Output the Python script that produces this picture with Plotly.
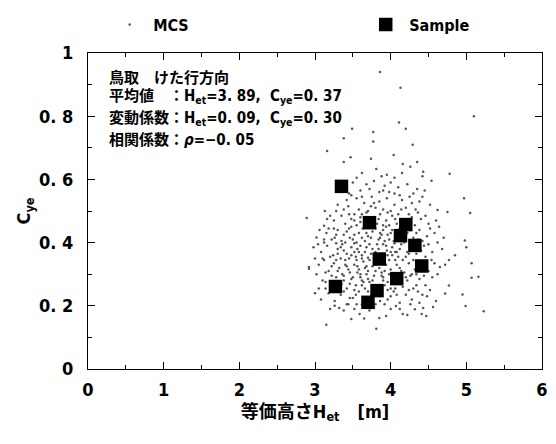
import plotly.graph_objects as go

# Sample data (Het [m], Cye)
sample_h = [3.35, 3.72, 4.20, 4.13, 4.32, 3.85, 4.41, 4.08, 3.27, 3.82, 3.70]
sample_c = [0.578, 0.463, 0.457, 0.422, 0.391, 0.348, 0.326, 0.286, 0.261, 0.248, 0.211]

# MCS cloud (Cye high -> low)
mcs_h = [
    3.86, 4.13,
    5.10, 3.49, 3.77, 4.11, 4.20,
    3.38, 3.77, 4.29, 3.16, 3.47, 3.74, 4.04, 3.38, 4.35, 4.16,
    3.81, 4.26, 4.43, 4.78, 4.42, 3.62, 3.95, 4.05, 3.55, 4.15, 3.88,
    4.54, 3.50, 3.68, 3.78, 3.92, 4.00, 4.10, 4.22, 4.35, 3.60, 3.85, 4.05, 4.30, 3.45, 3.72, 4.45, 3.98,
    4.97, 3.13, 3.30, 3.42, 3.55, 3.65, 3.75, 3.85, 3.95, 4.05, 4.15, 4.25, 4.38, 4.52, 3.58, 3.80,
    3.90, 4.00, 4.20, 4.62, 4.75, 3.38, 3.70, 4.33,
    5.05, 2.89, 3.12, 3.25, 3.35, 3.45, 3.52, 3.60, 3.68, 3.78, 3.86, 3.94, 4.02, 4.10, 4.28, 4.40,
    4.50, 4.60, 3.40, 3.55, 3.82, 3.98, 4.18, 4.32, 3.20, 3.65, 4.08, 3.48, 3.90,
    3.02, 3.15, 3.22, 3.30, 3.38, 3.45, 3.50, 3.58, 3.63, 3.70, 3.76, 3.84, 3.90, 3.96, 4.04, 4.12,
    4.22, 4.30, 4.38, 4.48, 4.58, 4.70, 4.98, 3.35, 3.55, 3.80, 4.00, 4.16, 3.66, 3.25, 3.92, 4.42,
    3.72, 3.12,
    5.00, 2.98, 3.08, 3.16, 3.24, 3.30, 3.36, 3.42, 3.48, 3.54, 3.60, 3.66, 3.72, 3.78, 3.84, 3.90,
    3.96, 4.02, 4.08, 4.14, 4.20, 4.26, 4.34, 4.44, 4.55, 4.68, 4.85, 3.20, 3.45, 3.70, 3.95, 4.10,
    3.38, 3.62, 3.88, 4.30, 3.52, 3.76, 4.05, 3.28,
    5.07, 4.77, 4.65, 2.92, 3.05, 3.12, 3.18, 3.25, 3.32, 3.40, 3.46, 3.52, 3.58, 3.64, 3.70, 3.76,
    3.82, 3.88, 3.94, 4.00, 4.06, 4.12, 4.18, 4.24, 4.32, 4.40, 4.50, 4.58, 3.36, 3.60, 3.85, 4.05,
    3.28, 3.55, 3.72, 3.98, 4.28, 3.42, 3.68, 3.92, 2.92,
    5.16, 5.07, 4.77, 3.10, 3.20, 3.28, 3.35, 3.42, 3.48, 3.54, 3.60, 3.66, 3.72, 3.78, 3.84, 3.90,
    3.96, 4.02, 4.10, 4.16, 4.22, 4.30, 4.38, 4.46, 4.55, 3.05, 3.38, 3.64, 3.88, 4.06, 4.26, 3.25,
    3.52,
    4.95, 4.72, 3.08, 3.18, 3.26, 3.34, 3.42, 3.50, 3.58, 3.66, 3.74, 3.80, 3.88, 3.96, 4.04, 4.12,
    4.20, 4.28, 4.36, 4.48, 4.60, 3.55, 3.92, 4.00, 3.30, 3.70,
    4.99, 5.23, 4.56, 4.43, 4.47, 4.41, 4.32, 4.22, 4.07, 4.16, 3.94, 3.85, 3.59, 3.32, 3.48, 3.72,
    3.20, 3.65,
    3.15, 3.81,
    # denser core
    3.48, 3.62, 3.78, 3.90, 4.12, 4.28, 3.35, 4.42,
    3.28, 3.44, 3.62, 3.74, 3.84, 3.96, 4.06, 4.14, 4.24, 4.36, 4.46, 3.52, 3.16,
    3.18, 3.28, 3.42, 3.52, 3.60, 3.68, 3.74, 3.86, 3.94, 4.02, 4.26, 4.34, 4.52, 4.64, 3.06, 3.48,
    3.88, 4.08,
    3.12, 3.26, 3.34, 3.40, 3.46, 3.56, 3.62, 3.68, 3.74, 3.82, 3.86, 3.94, 3.98, 4.06, 4.12, 4.18,
    4.24, 4.36, 4.40, 4.50, 4.62, 3.04, 3.58, 3.80, 4.00,
    3.10, 3.22, 3.34, 3.40, 3.48, 3.56, 3.62, 3.66, 3.74, 3.80, 3.86, 3.92, 4.02, 4.08, 4.16, 4.22,
    4.30, 4.36, 4.46, 4.54, 4.72, 3.00, 3.30, 3.52,
    3.02, 3.14, 3.22, 3.30, 3.38, 3.44, 3.50, 3.56, 3.62, 3.68, 3.76, 3.80, 3.90, 3.98, 4.04, 4.14,
    4.20, 4.34, 4.44, 4.62, 3.14, 3.70, 3.96,
    3.14, 3.22, 3.30, 3.38, 3.46, 3.54, 3.62, 3.70, 3.76, 3.84, 3.92, 4.00, 4.08, 4.14, 4.24, 4.34,
    4.42, 4.52, 3.00, 3.46,
    3.26, 3.38, 3.52, 3.62, 3.78, 3.86, 4.00, 4.12, 4.26, 4.38, 3.44,
]
mcs_c = [
    0.94, 0.89,
    0.80, 0.76, 0.75, 0.78, 0.76,
    0.73, 0.72, 0.71, 0.69, 0.67, 0.665, 0.677, 0.655, 0.655, 0.649,
    0.633, 0.64, 0.624, 0.618, 0.61, 0.62, 0.615, 0.605, 0.605, 0.62, 0.61,
    0.596, 0.59, 0.585, 0.595, 0.58, 0.59, 0.575, 0.585, 0.57, 0.565, 0.56, 0.555, 0.555, 0.555, 0.57, 0.565, 0.56,
    0.54, 0.50, 0.52, 0.535, 0.54, 0.525, 0.545, 0.53, 0.54, 0.52, 0.535, 0.545, 0.53, 0.52, 0.505, 0.51,
    0.505, 0.50, 0.51, 0.503, 0.497, 0.505, 0.50, 0.505,
    0.494, 0.478, 0.453, 0.47, 0.485, 0.49, 0.47, 0.48, 0.495, 0.48, 0.49, 0.47, 0.485, 0.49, 0.48, 0.475,
    0.46, 0.47, 0.46, 0.455, 0.46, 0.455, 0.465, 0.455, 0.485, 0.465, 0.46, 0.475, 0.455,
    0.416, 0.43, 0.41, 0.44, 0.425, 0.445, 0.41, 0.43, 0.445, 0.42, 0.435, 0.41, 0.44, 0.425, 0.405, 0.445,
    0.43, 0.415, 0.44, 0.42, 0.43, 0.415, 0.407, 0.405, 0.40, 0.445, 0.43, 0.41, 0.405, 0.445, 0.405, 0.405,
    0.45, 0.41,
    0.385, 0.385, 0.37, 0.39, 0.36, 0.38, 0.395, 0.365, 0.385, 0.355, 0.39, 0.37, 0.395, 0.36, 0.38, 0.395,
    0.36, 0.385, 0.37, 0.395, 0.355, 0.38, 0.365, 0.39, 0.37, 0.38, 0.36, 0.355, 0.35, 0.352, 0.375, 0.355,
    0.375, 0.36, 0.365, 0.395, 0.398, 0.38, 0.398, 0.398,
    0.335, 0.345, 0.323, 0.323, 0.33, 0.345, 0.31, 0.335, 0.32, 0.345, 0.305, 0.33, 0.315, 0.34, 0.31, 0.325,
    0.34, 0.305, 0.33, 0.315, 0.345, 0.32, 0.305, 0.335, 0.315, 0.34, 0.31, 0.335, 0.30, 0.30, 0.32, 0.30,
    0.345, 0.345, 0.345, 0.345, 0.30, 0.325, 0.325, 0.31, 0.317,
    0.292, 0.289, 0.264, 0.28, 0.26, 0.29, 0.27, 0.255, 0.285, 0.265, 0.29, 0.255, 0.275, 0.295, 0.26, 0.28,
    0.25, 0.27, 0.295, 0.26, 0.28, 0.255, 0.285, 0.265, 0.29, 0.255, 0.295, 0.275, 0.295, 0.255, 0.295, 0.275,
    0.25,
    0.236, 0.239, 0.22, 0.24, 0.215, 0.235, 0.205, 0.225, 0.245, 0.21, 0.23, 0.205, 0.24, 0.22, 0.245, 0.21,
    0.235, 0.22, 0.245, 0.23, 0.215, 0.205, 0.205, 0.23, 0.245, 0.245,
    0.199, 0.183, 0.196, 0.193, 0.168, 0.174, 0.189, 0.171, 0.199, 0.174, 0.168, 0.161, 0.174, 0.193, 0.158, 0.185,
    0.19, 0.16,
    0.14, 0.127,
    # denser core
    0.55, 0.545, 0.525, 0.565, 0.55, 0.525, 0.56, 0.545,
    0.50, 0.515, 0.49, 0.515, 0.475, 0.495, 0.475, 0.505, 0.49, 0.495, 0.485, 0.49, 0.475,
    0.445, 0.425, 0.435, 0.425, 0.465, 0.43, 0.46, 0.43, 0.45, 0.44, 0.455, 0.43, 0.445, 0.45, 0.44, 0.45,
    0.425, 0.425,
    0.40, 0.415, 0.385, 0.40, 0.415, 0.38, 0.415, 0.385, 0.415, 0.395, 0.415, 0.39, 0.41, 0.37, 0.38, 0.40,
    0.365, 0.41, 0.375, 0.395, 0.40, 0.395, 0.37, 0.37, 0.37,
    0.35, 0.325, 0.35, 0.33, 0.36, 0.325, 0.35, 0.32, 0.365, 0.33, 0.35, 0.335, 0.36, 0.33, 0.345, 0.37,
    0.345, 0.325, 0.355, 0.345, 0.33, 0.35, 0.365, 0.37,
    0.30, 0.305, 0.295, 0.31, 0.28, 0.315, 0.29, 0.305, 0.28, 0.30, 0.28, 0.31, 0.29, 0.30, 0.285, 0.31,
    0.29, 0.30, 0.295, 0.30, 0.275, 0.285, 0.275,
    0.255, 0.245, 0.265, 0.245, 0.27, 0.235, 0.265, 0.225, 0.26, 0.235, 0.265, 0.255, 0.235, 0.27, 0.25, 0.265,
    0.235, 0.25, 0.24, 0.225,
    0.20, 0.185, 0.19, 0.205, 0.195, 0.215, 0.19, 0.19, 0.205, 0.21, 0.205,
]

x_ticks = [0, 1, 2, 3, 4, 5, 6]
y_ticks = [0, 0.2, 0.4, 0.6, 0.8, 1]
y_labels = ["0", "0. 2", "0. 4", "0. 6", "0. 8", "1"]

info_lines = [
    "鳥取　けた行方向",
    "平均値　：H<sub>et</sub>=3. 89,  C<sub>ye</sub>=0. 37",
    "変動係数：H<sub>et</sub>=0. 09,  C<sub>ye</sub>=0. 30",
    "相関係数：<i>ρ</i>=−0. 05",
]
info_y = [0.922, 0.862, 0.792, 0.724]

FONT = "DejaVu Sans Condensed, Noto Sans CJK JP"

fig = go.Figure()
fig.add_trace(go.Scatter(x=mcs_h, y=mcs_c, mode="markers", name="MCS", legend="legend",
                         marker=dict(size=2.5, color="#555555", symbol="circle")))
fig.add_trace(go.Scatter(x=sample_h, y=sample_c, mode="markers", name="Sample", legend="legend2",
                         marker=dict(size=13.5, color="black", symbol="square")))

for line, yy in zip(info_lines, info_y):
    fig.add_annotation(x=0.25, y=yy, xref="x", yref="y",
                       text=line, showarrow=False, xanchor="left", yanchor="middle",
                       font=dict(size=15, color="black", family=FONT, weight="bold"))

tick_font = dict(size=18, color="black", family=FONT, weight="bold")
axis_common = dict(showline=True, linecolor="black", linewidth=1, mirror="allticks",
                   ticks="inside", ticklen=7, tickcolor="black", showgrid=False,
                   zeroline=False, tickfont=tick_font)

fig.update_xaxes(range=[0, 6], tickvals=x_ticks, **axis_common, ticklabelstandoff=4,
                 minor=dict(ticks="inside", ticklen=4, dtick=0.5, tickcolor="black"),
                 title=dict(text="等価高さH<sub>et</sub>　[m]", standoff=6, font=tick_font))
fig.update_yaxes(range=[0, 1], tickvals=y_ticks, ticktext=y_labels, **axis_common,
                 ticklabelstandoff=10,
                 minor=dict(ticks="inside", ticklen=4, dtick=0.1, tickcolor="black"),
                 title=dict(text="C<sub>ye</sub>", standoff=3, font=tick_font))

legend_common = dict(orientation="h", yanchor="middle", y=1.09, xanchor="left",
                     itemwidth=37, font=dict(size=16, color="black", family=FONT, weight="bold"),
                     bgcolor="rgba(0,0,0,0)")
fig.update_layout(
    width=556, height=444,
    margin=dict(l=88, r=8, t=47, b=75),
    plot_bgcolor="white", paper_bgcolor="white",
    font=dict(family=FONT, color="black"),
    showlegend=True,
    legend=dict(x=0.04, **legend_common),
    legend2=dict(x=0.604, **legend_common),
)

fig.write_html("out.html", config={"displayModeBar": False},
               post_script="document.body.style.margin='0';")
